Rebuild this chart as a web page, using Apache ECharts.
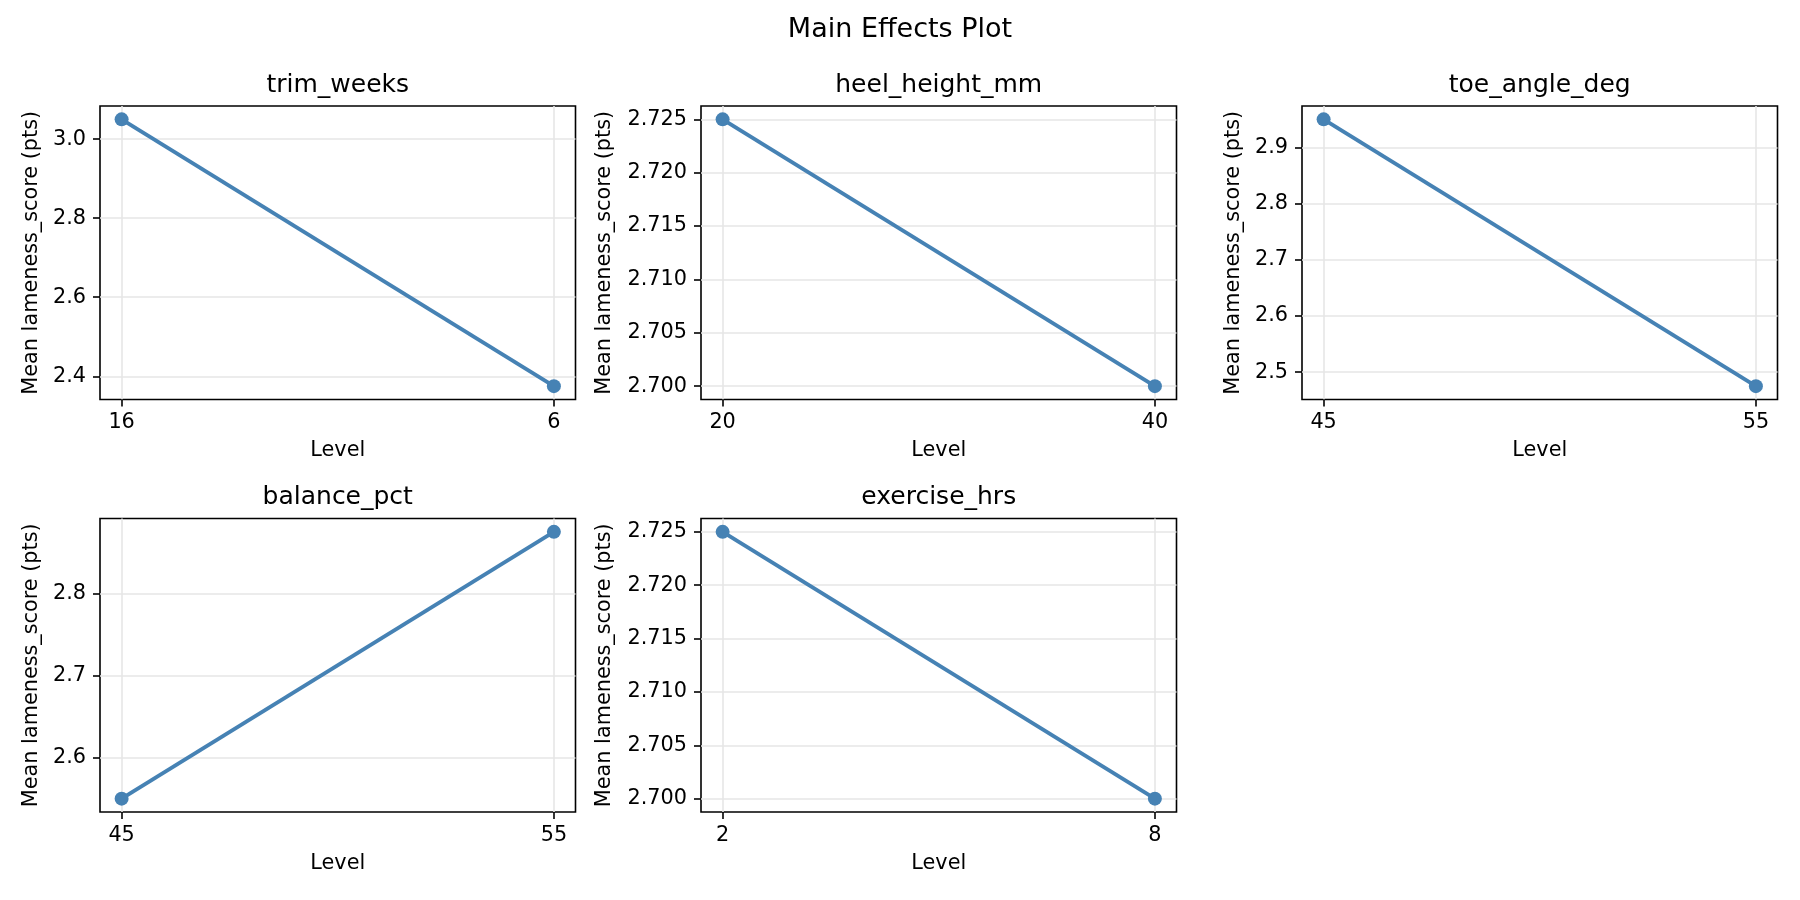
<!DOCTYPE html>
<html>
<head>
<meta charset="utf-8">
<script src="https://cdn.jsdelivr.net/npm/echarts@6/dist/echarts.min.js"></script>
<style>
html,body{margin:0;padding:0;background:#fff;}
#chart{width:1800px;height:900px;}
</style>
</head>
<body>
<div id="chart"></div>
<script>
const factors = ['trim_weeks', 'heel_height_mm', 'toe_angle_deg', 'balance_pct', 'exercise_hrs'];
const levelLabels = [['16', '6'], ['20', '40'], ['45', '55'], ['45', '55'], ['2', '8']];
const trimWeeksMeans = [3.05, 2.375];
const heelHeightMeans = [2.725, 2.700];
const toeAngleMeans = [2.95, 2.475];
const balancePctMeans = [2.55, 2.875];
const exerciseHrsMeans = [2.725, 2.700];
const meanSeries = [trimWeeksMeans, heelHeightMeans, toeAngleMeans, balancePctMeans, exerciseHrsMeans];
const yTickLabels = [
  ['2.4', '2.6', '2.8', '3.0'],
  ['2.700', '2.705', '2.710', '2.715', '2.720', '2.725'],
  ['2.5', '2.6', '2.7', '2.8', '2.9'],
  ['2.6', '2.7', '2.8'],
  ['2.700', '2.705', '2.710', '2.715', '2.720', '2.725']
];
const mainTitle = 'Main Effects Plot';
const yName = 'Mean lameness_score (pts)';
const xName = 'Level';

// layout (pixels)
const colLeft = [100, 701, 1302];
const plotW = 475.5;
const rowTop = [106, 518.5];
const plotH = 293.5;
const FONT = 'DejaVu Sans';
const BLUE = '#4682b4';

const chart = echarts.init(document.getElementById('chart'), null, {renderer: 'canvas'});

const grids = [], xAxes = [], yAxes = [], series = [];
const titles = [{
  text: mainTitle, left: 900, top: 30, textAlign: 'center', textVerticalAlign: 'middle', padding: 0,
  textStyle: {fontFamily: FONT, fontSize: 27, fontWeight: 'normal', color: '#000'}
}];

factors.forEach((name, i) => {
  const col = i % 3, row = Math.floor(i / 3);
  const left = colLeft[col], top = rowTop[row];
  grids.push({left: left, top: top, width: plotW, height: plotH, show: true,
    borderColor: '#000', borderWidth: 1.6, backgroundColor: 'transparent', containLabel: false});
  titles.push({
    text: name, left: left + plotW / 2, top: top - 21, textAlign: 'center', textVerticalAlign: 'middle', padding: 0,
    textStyle: {fontFamily: FONT, fontSize: 25, fontWeight: 'normal', color: '#000'}
  });
  const vals = meanSeries[i];
  const lo = Math.min(...vals), hi = Math.max(...vals);
  const m = (hi - lo) * 0.05;
  const yTicks = yTickLabels[i].map(Number);
  const wide = yTickLabels[i][0].length > 3;
  xAxes.push({
    type: 'value', gridIndex: i, min: -0.05, max: 1.05, position: 'bottom',
    name: xName, nameLocation: 'middle', nameGap: 41, nameMoveOverlap: false,
    nameTextStyle: {fontFamily: FONT, fontSize: 20.8, color: '#000'},
    axisLine: {show: false, onZero: false},
    axisTick: {show: true, inside: false, length: 7, lineStyle: {color: '#000', width: 1.6}, customValues: [0, 1]},
    axisLabel: {show: true, margin: 13, fontFamily: FONT, fontSize: 20.8, color: '#000', customValues: [0, 1],
      formatter: (v) => levelLabels[i][Math.round(v)]},
    splitLine: {show: true, lineStyle: {color: '#e6e6e6', width: 1.6}}
  });
  yAxes.push({
    type: 'value', gridIndex: i, min: lo - m, max: hi + m, position: 'left',
    name: yName, nameLocation: 'middle', nameGap: wide ? 86 : 58, nameRotate: 90, nameMoveOverlap: false,
    nameTextStyle: {fontFamily: FONT, fontSize: 20.8, color: '#000'},
    axisLine: {show: false, onZero: false},
    axisTick: {show: true, inside: false, length: 7, lineStyle: {color: '#000', width: 1.6}, customValues: yTicks},
    axisLabel: {show: true, margin: 14, fontFamily: FONT, fontSize: 20.8, color: '#000', customValues: yTicks,
      formatter: (v) => {
        const k = yTicks.findIndex(t => Math.abs(t - v) < 1e-9);
        return k >= 0 ? yTickLabels[i][k] : '';
      }},
    splitLine: {show: true, lineStyle: {color: '#e6e6e6', width: 1.6}}
  });
  series.push({
    type: 'line', xAxisIndex: i, yAxisIndex: i,
    data: vals.map((v, k) => [k, v]),
    symbol: 'circle', symbolSize: 14, showSymbol: true,
    lineStyle: {color: BLUE, width: 4},
    itemStyle: {color: BLUE},
    animation: false, silent: true
  });
});

chart.setOption({
  backgroundColor: '#fff',
  animation: false,
  title: titles,
  grid: grids,
  xAxis: xAxes,
  yAxis: yAxes,
  series: series
});
</script>
</body>
</html>
